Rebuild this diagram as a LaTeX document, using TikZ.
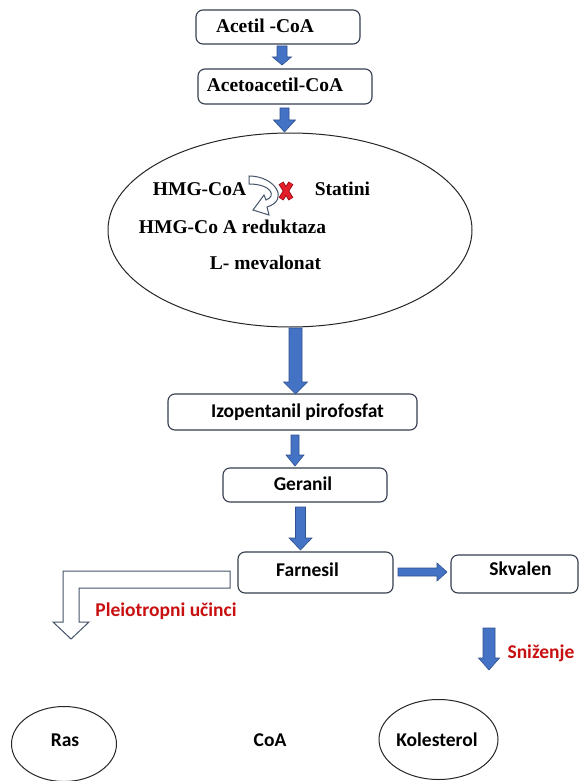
\documentclass[tikz,border=0pt]{standalone}
\usepackage{fontspec}
\setmainfont{Liberation Serif}
\newfontfamily\carl{Carlito}
\usetikzlibrary{calc,shapes.geometric}
\definecolor{boxline}{RGB}{52,62,78}
\definecolor{arrfill}{RGB}{68,114,196}
\definecolor{arredge}{RGB}{47,82,143}
\definecolor{redtxt}{RGB}{200,16,16}
\definecolor{xred}{RGB}{228,30,40}
\definecolor{xdark}{RGB}{150,10,20}
\definecolor{hollowline}{RGB}{68,84,106}
\tikzset{
  pbox/.style={draw=boxline, line width=1.1pt, rounded corners=7pt, fill=white, inner sep=0pt},
  serift/.style={font=\fontsize{19.5}{22}\selectfont\bfseries},
  sanst/.style={font=\carl\fontsize{19.5}{22}\selectfont\bfseries},
  redt/.style={sanst, text=redtxt},
  oval/.style={draw=black!85, line width=1pt, ellipse, inner sep=0pt},
  barrow/.style={fill=arrfill, draw=arredge, line width=0.6pt, line join=miter},
  hollow/.style={fill=white, draw=hollowline, line width=1pt, line join=miter},
}
\newcommand{\blockarr}[5]{%
  \path ($(#2)!#5!(#1)$) coordinate (bah);
  \filldraw[barrow] ($(#1)!#3!90:(#2)$) -- ($(bah)!#3!90:(#2)$) -- ($(bah)!#4!90:(#2)$) -- (#2)
    -- ($(bah)!#4!-90:(#2)$) -- ($(bah)!#3!-90:(#2)$) -- ($(#1)!#3!-90:(#2)$) -- cycle;}
\begin{document}
\begin{tikzpicture}[x=1pt,y=-1pt]
\fill[white] (0,0) rectangle (580,781);
\useasboundingbox (0,0) rectangle (580,781);

% boxes
\node[pbox, minimum width=164pt, minimum height=34pt,
      label={[serift, xshift=-13pt, yshift=1pt]center:Acetil -CoA}] (acetil) at (278,27) {};
\node[pbox, minimum width=174pt, minimum height=35pt,
      label={[serift, xshift=-10pt, yshift=2pt]center:Acetoacetil-CoA}] (acetoacetil) at (285,86.5) {};
\node[oval, minimum width=364pt, minimum height=194pt] (hmg) at (290,230) {};
\node[pbox, minimum width=249pt, minimum height=36pt,
      label={[sanst, xshift=5pt]center:Izopentanil pirofosfat}] (izo) at (292.5,412) {};
\node[pbox, minimum width=164pt, minimum height=34pt,
      label={[sanst, xshift=-2pt, yshift=1pt]center:Geranil}] (geranil) at (305,485) {};
\node[pbox, minimum width=155pt, minimum height=41pt,
      label={[sanst, xshift=-8pt, yshift=3pt]center:Farnesil}] (farnesil) at (315.5,572.5) {};
\node[pbox, minimum width=127pt, minimum height=38pt,
      label={[sanst, xshift=6pt, yshift=5pt]center:Skvalen}] (skvalen) at (514.5,574) {};

% texts inside the large ellipse
\node[serift] (hmgcoa) at (199.5,189) {HMG-CoA};
\node[serift] (statini) at (342.5,189) {Statini};
\node[serift] (reduktaza) at (232.5,227) {HMG-Co A reduktaza};
\node[serift] (mevalonat) at (265.5,263) {L- mevalonat};

% curved hollow arrow and red X
\draw[hollow] (249,176) .. controls (275,176) and (290,200) .. (267,207) -- (269,215) -- (253,210)
  -- (264,195) -- (266,200) .. controls (277,196) and (271,184) .. (249,184) -- cycle;
\draw[xdark, line width=5.6pt] (281,183) -- (291,199) (291,183) -- (281,199);
\draw[xred, line width=3.8pt] (281.3,183.5) -- (290.7,198.5) (290.7,183.5) -- (281.3,198.5);

% block arrows
\coordinate (a1s) at (282,46);    \coordinate (a1e) at (282,65);
\coordinate (a2s) at (284.5,108); \coordinate (a2e) at (284.5,132);
\coordinate (a3s) at (295.5,328); \coordinate (a3e) at (295.5,394);
\coordinate (a4s) at (295,435);   \coordinate (a4e) at (295,466);
\coordinate (a5s) at (300.5,507); \coordinate (a5e) at (300.5,550);
\coordinate (afs) at (398,572);   \coordinate (afe) at (447,572);
\coordinate (ass) at (489,628);   \coordinate (ase) at (489,670);
\blockarr{a1s}{a1e}{5pt}{9.5pt}{8pt}
\blockarr{a2s}{a2e}{4.5pt}{11pt}{12pt}
\blockarr{a3s}{a3e}{6.5pt}{12pt}{12pt}
\blockarr{a4s}{a4e}{4pt}{9pt}{11pt}
\blockarr{a5s}{a5e}{5pt}{11.5pt}{12pt}
\blockarr{afs}{afe}{4pt}{9pt}{10pt}
\blockarr{ass}{ase}{6pt}{10.5pt}{12pt}

% hollow bent arrow
\draw[hollow] (230,571) -- (63,571) -- (63,622) -- (53,622) -- (71,639) -- (89,622)
  -- (79,622) -- (79,588) -- (230,588) -- cycle;

\node[redt] (pleio) at (166,611) {Pleiotropni učinci};
\node[redt] (snizenje) at (541,653) {Sniženje};

% bottom
\node[oval, minimum width=105pt, minimum height=75pt,
      label={[sanst, xshift=1pt, yshift=4pt]center:Ras}] (ras) at (64,744) {};
\node[sanst] (coa) at (270,740) {CoA};
\node[oval, minimum width=119pt, minimum height=80pt,
      label={[sanst, xshift=-1.5pt]center:Kolesterol}] (kolesterol) at (438.5,739.5) {};
\end{tikzpicture}
\end{document}
